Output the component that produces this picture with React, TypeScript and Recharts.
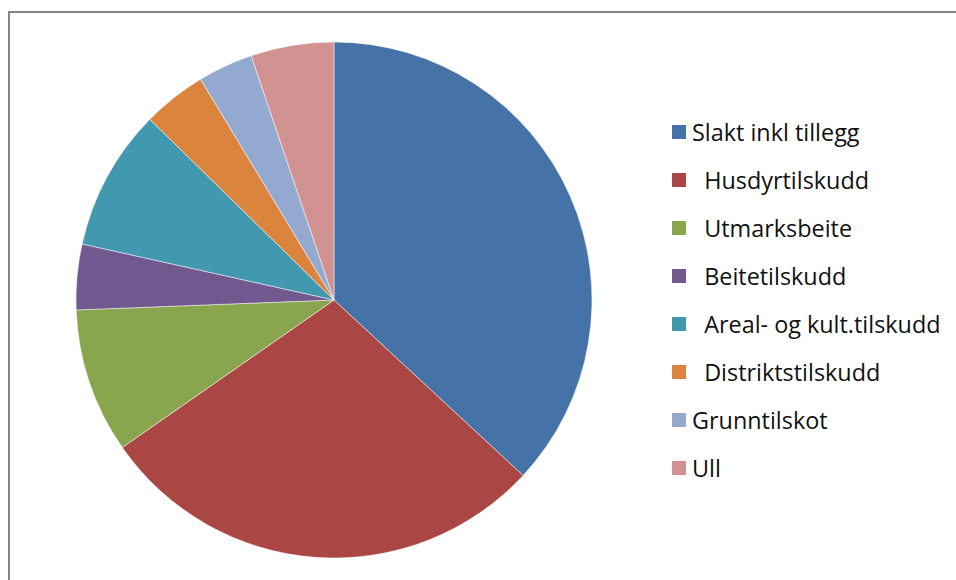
import React from "react";
import { PieChart, Pie, Cell, Legend } from "recharts";

const categories = [
  "Slakt inkl tillegg",
  "  Husdyrtilskudd",
  "  Utmarksbeite",
  "  Beitetilskudd",
  "  Areal- og kult.tilskudd",
  "  Distriktstilskudd",
  "Grunntilskot",
  "Ull",
];
const values = [36.9, 28.4, 9.07, 4.1, 8.86, 4.0, 3.45, 5.2];
const colors = [
  "#4572A7",
  "#AA4643",
  "#89A54E",
  "#71588F",
  "#4198AF",
  "#DB843D",
  "#93A9CF",
  "#D19392",
];

const data = categories.map((name, i) => ({ name, value: values[i] }));

const LegendContent = () => (
  <div style={{ fontFamily: "'Open Sans', sans-serif", fontSize: 23.4, color: "#111" }}>
    {categories.map((name, i) => (
      <div key={i} style={{ display: "flex", alignItems: "center", height: 48 }}>
        <span
          style={{
            display: "inline-block",
            flex: "0 0 auto",
            width: 14,
            height: 14,
            background: colors[i],
            marginRight: 6,
          }}
        />
        <span style={{ whiteSpace: "pre", lineHeight: "28px" }}>{name}</span>
      </div>
    ))}
  </div>
);

export default function App() {
  return (
    <div
      style={{
        position: "absolute",
        left: 0,
        top: 0,
        width: 956,
        height: 580,
        overflow: "hidden",
        background: "#fff",
      }}
    >
      <div
        style={{
          position: "absolute",
          left: 8,
          top: 11,
          width: 1000,
          height: 700,
          border: "2px solid #878787",
          boxSizing: "border-box",
        }}
      />
      <div style={{ position: "absolute", left: 0, top: 0 }}>
        <PieChart width={956} height={580} margin={{ top: 0, right: 0, bottom: 0, left: 0 }}>
          <Pie
            data={data}
            dataKey="value"
            nameKey="name"
            cx={334}
            cy={300}
            outerRadius={258}
            startAngle={90}
            endAngle={-270}
            stroke="#ffffff"
            strokeWidth={0.5}
            isAnimationActive={false}
          >
            {data.map((d, i) => (
              <Cell key={i} fill={colors[i]} />
            ))}
          </Pie>
          <Legend
            content={<LegendContent />}
            layout="vertical"
            wrapperStyle={{ left: 672, top: 108, width: 284 }}
          />
        </PieChart>
      </div>
    </div>
  );
}
